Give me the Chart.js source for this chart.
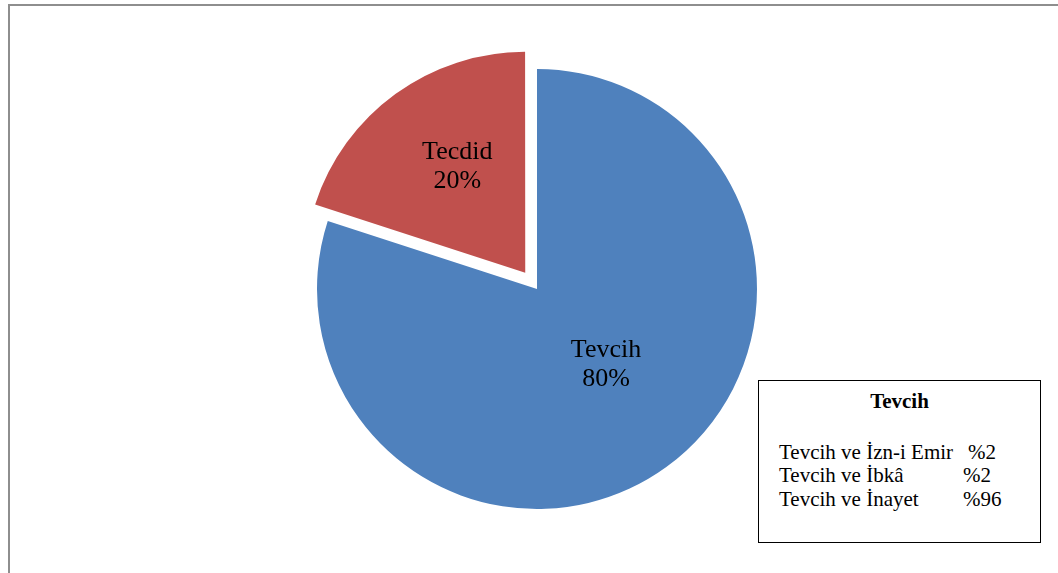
<!DOCTYPE html>
<html lang="tr">
<head>
<meta charset="utf-8">
<script src="https://cdn.jsdelivr.net/npm/chart.js@4"></script>
<style>
  html, body { margin: 0; padding: 0; background: #fff; }
  #wrap { position: relative; width: 1058px; height: 573px; overflow: hidden; }
  #frame { position: absolute; left: 8px; top: 4px; width: 1060px; height: 580px;
           border-top: 2px solid #8e8e8e; border-left: 2px solid #8e8e8e; }
  #chart { position: absolute; left: 0; top: 0; }
  #kutu { position: absolute; left: 758px; top: 380px; width: 281px; height: 161px;
          border: 1px solid #000; background: #fff;
          font-family: "Liberation Serif", "Times New Roman", serif; font-size: 21px; color: #000; }
  #kutu div { position: absolute; line-height: 23px; white-space: nowrap; }
  #kutu .baslik { left: 0; width: 281px; text-align: center; font-weight: bold; top: 9px; }
</style>
</head>
<body>
<div id="wrap">
  <div id="frame"></div>
  <canvas id="chart" width="1058" height="573"></canvas>
  <div id="kutu"></div>
</div>
<script>
// pasta dilimleri
const etiketler = ["Tevcih", "Tecdid"];
const degerler = [80, 20];
const renkler = ["#4f81bd", "#c0504d"];
const ayrilma = [0, 80]; // chart.js çizerken offset/4 kadar kaydırır

// kutudaki alt kırılım
const kutuBaslik = "Tevcih";
const altEtiketler = ["Tevcih ve İzn-i Emir", "Tevcih ve İbkâ", "Tevcih ve İnayet"];
const altDegerler = ["%2", "%2", "%96"];

// etiket yerleşimi (yarıçap oranı, açı kaydırması derece)
const etiketOran = [0.46, 0.58];
const etiketAciKaydir = [-7, 3.3];

const dilimEtiketleri = {
  id: "dilimEtiketleri",
  afterDatasetsDraw(chart) {
    const ctx = chart.ctx;
    const meta = chart.getDatasetMeta(0);
    const toplam = degerler.reduce((a, b) => a + b, 0);
    ctx.save();
    ctx.font = '26px "Liberation Serif", "Times New Roman", serif';
    ctx.fillStyle = "#000";
    ctx.textAlign = "center";
    ctx.textBaseline = "alphabetic";
    meta.data.forEach((arc, i) => {
      const p = arc.getProps(["x", "y", "startAngle", "endAngle", "outerRadius"], true);
      const orta = (p.startAngle + p.endAngle) / 2 + etiketAciKaydir[i] * Math.PI / 180;
      const kay = ayrilma[i] / 4;
      const mesafe = kay + p.outerRadius * etiketOran[i];
      const x = p.x + Math.cos(orta) * mesafe;
      const y = p.y + Math.sin(orta) * mesafe;
      const yuzde = Math.round(degerler[i] / toplam * 100) + "%";
      ctx.fillText(etiketler[i], x, y - 6);
      ctx.fillText(yuzde, x, y + 23);
    });
    ctx.restore();
  },
};

new Chart(document.getElementById("chart"), {
  type: "pie",
  data: {
    labels: etiketler,
    datasets: [
      {
        data: degerler,
        backgroundColor: renkler,
        borderWidth: 0,
        offset: ayrilma,
        hoverOffset: 0,
        clip: false,
      },
    ],
  },
  options: {
    responsive: false,
    animation: false,
    events: [],
    layout: { padding: { top: 29, bottom: 24, left: 237, right: 221 } },
    plugins: {
      legend: { display: false },
      tooltip: { enabled: false },
    },
  },
  plugins: [dilimEtiketleri],
});

// sağ alttaki açıklama kutusu
const kutu = document.getElementById("kutu");
const baslik = document.createElement("div");
baslik.className = "baslik";
baslik.textContent = kutuBaslik;
kutu.appendChild(baslik);

const satirUstler = [60, 83, 107];
const yuzdeSol = [209, 204, 204];
altEtiketler.forEach((metin, i) => {
  const ad = document.createElement("div");
  ad.style.left = "20px";
  ad.style.top = satirUstler[i] + "px";
  ad.textContent = metin;
  kutu.appendChild(ad);

  const oran = document.createElement("div");
  oran.style.left = yuzdeSol[i] + "px";
  oran.style.top = satirUstler[i] + "px";
  oran.textContent = altDegerler[i];
  kutu.appendChild(oran);
});
</script>
</body>
</html>
